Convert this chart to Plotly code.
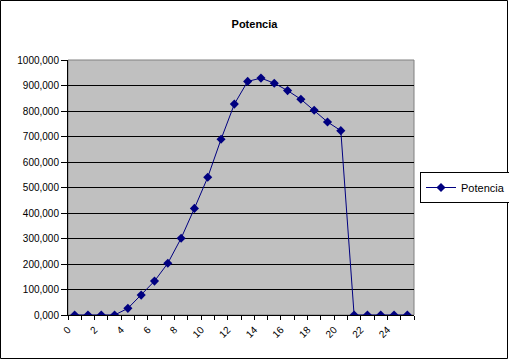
import plotly.graph_objects as go

hours = [i + 0.5 for i in range(26)]
potencia = [0, 0, 0, 0, 26, 78, 133, 203, 301, 418, 540, 689, 827, 916, 929,
            909, 880, 846, 803, 757, 723, 0, 0, 0, 0, 0]
x_tickvals = list(range(0, 25, 2))
x_ticktext = [str(v) for v in x_tickvals]
y_tickvals = list(range(0, 1001, 100))

W, H = 509, 360
L, R, T, B = 68, 95, 60, 45
pw, ph = W - L - R, H - T - B

font = "Arial, Liberation Sans, sans-serif"
navy = "#000080"

fig = go.Figure()
fig.add_trace(go.Scatter(
    x=hours, y=potencia, mode="lines+markers", name="Potencia",
    line=dict(color=navy, width=1),
    marker=dict(symbol="diamond", size=7, color=navy),
))

fig.update_layout(
    width=W, height=H,
    margin=dict(l=L, r=R, t=T, b=B, pad=0, autoexpand=False),
    paper_bgcolor="white", plot_bgcolor="#C0C0C0",
    separators=",.",
    font=dict(family=font, size=10, color="black"),
    title=dict(text="<b>Potencia</b>", x=0.5, xanchor="center",
               y=1 - 24 / H, yanchor="middle", yref="container",
               font=dict(family=font, size=11, color="black")),
    showlegend=True,
    legend=dict(x=(420 - L) / pw, xanchor="left", y=0.5, yanchor="middle",
                bordercolor="black", borderwidth=1, bgcolor="white",
                font=dict(family=font, size=11, color="black"),
                itemwidth=30, tracegroupgap=0),
    xaxis=dict(range=[0, 26], tickvals=x_tickvals, ticktext=x_ticktext,
               tickangle=-45, ticks="outside", ticklen=4, tickcolor="black",
               showline=True, linecolor="black", linewidth=1,
               showgrid=False, zeroline=False, automargin=False,
               minor=dict(dtick=1, tick0=0, ticks="outside", ticklen=4,
                          tickcolor="black", showgrid=False),
               tickfont=dict(family=font, size=10, color="black")),
    yaxis=dict(range=[0, 1000], tickvals=y_tickvals, tickformat=".3f",
               ticks="outside", ticklen=6, tickcolor="black",
               showline=True, linecolor="black", linewidth=1,
               showgrid=True, gridcolor="black", gridwidth=1,
               zeroline=False, automargin=False,
               tickfont=dict(family=font, size=10, color="black")),
    shapes=[
        dict(type="rect", xref="paper", yref="paper", x0=0, x1=1, y0=0, y1=1,
             line=dict(color="#808080", width=1), layer="below"),
        dict(type="rect", xref="paper", yref="paper",
             x0=-(L - 0.5) / pw, x1=1 + (R - 1.5) / pw,
             y0=-(B - 1.5) / ph, y1=1 + (T - 0.5) / ph,
             line=dict(color="black", width=1), fillcolor="rgba(0,0,0,0)"),
    ],
)

fig.write_html("out.html", config={"displayModeBar": False},
               post_script="document.body.style.margin='0';document.body.style.overflow='hidden';")
